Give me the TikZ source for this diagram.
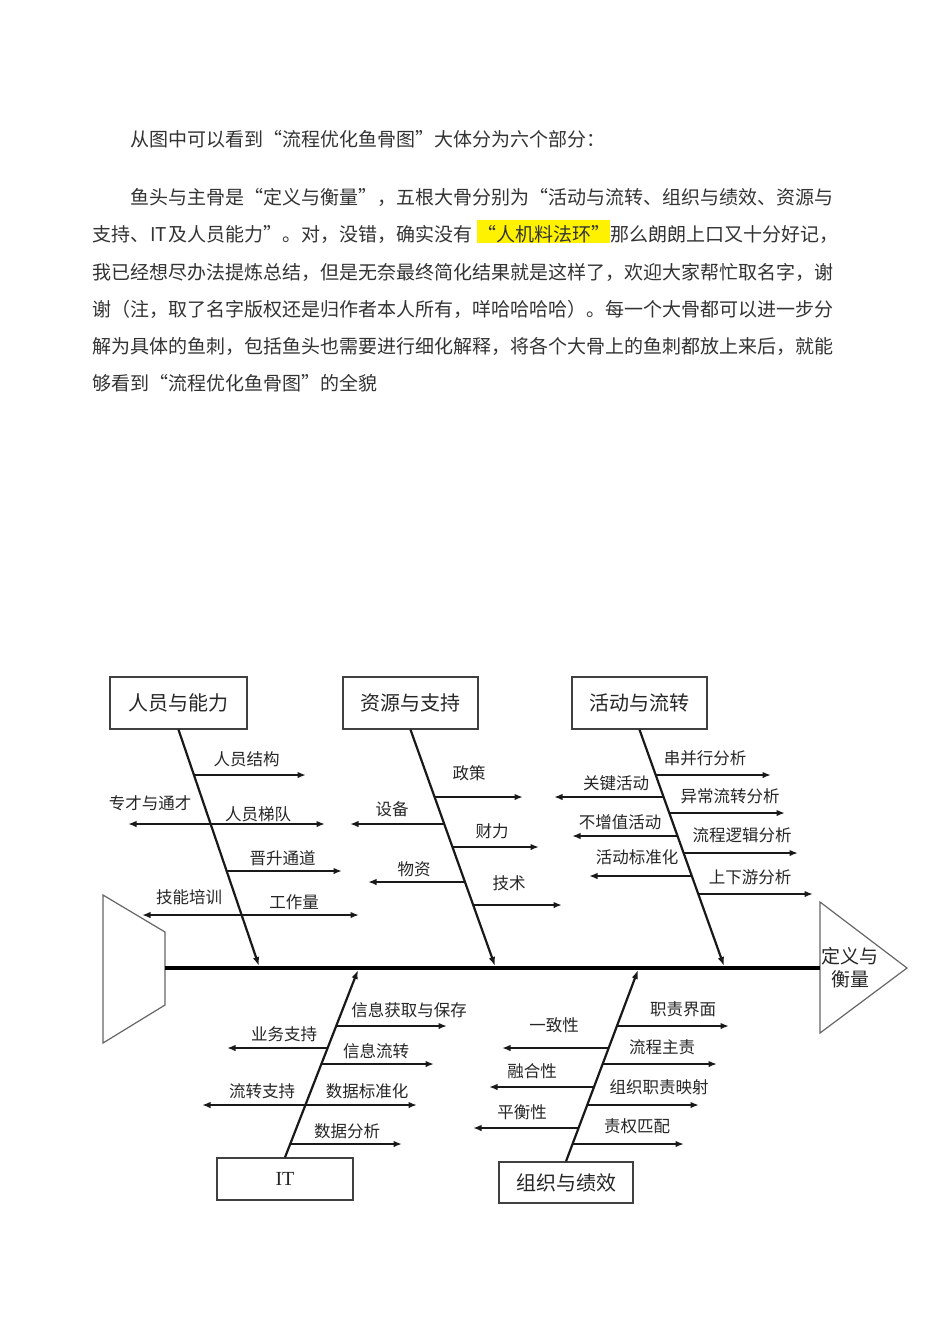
\documentclass[tikz,border=0pt]{standalone}
\usepackage{fontspec}
\setmainfont{Noto Sans CJK SC}
\newfontfamily\tnrfont{Liberation Serif}
\usetikzlibrary{arrows.meta}
\newcommand\myql{\makebox[1em][r]{“}}
\newcommand\myqr{\makebox[1em][l]{”}}
\tikzset{
  titlebox/.style={draw=black!75, line width=1.3pt, inner sep=0pt, font=\fontsize{20}{24}\selectfont, text=black!85},
  bone/.style={line width=2.2pt, draw=black!90, -{Latex[length=9pt,width=6.5pt]}},
  rib/.style={line width=1.8pt, draw=black!90, -{Latex[length=8.5pt,width=6.5pt]}},
  lbl/.style={font=\fontsize{16.5}{20}\selectfont, text=black!85, inner sep=0pt},
  para/.style={font=\fontsize{19}{19}\selectfont, text=black!80, inner sep=0pt, anchor=base west},
  outline/.style={draw=black!60, line width=1.2pt, fill=white}
}
% #1 bone start, #2 bone end, #3 y, #4 name, #5 end x
\newcommand\myrib[5]{%
  \coordinate (#4s) at (intersection of #1--#2 and 0,#3--950,#3);
  \coordinate (#4e) at (#5,#3);
  \draw[rib] (#4s) -- (#4e);}
\begin{document}
\begin{tikzpicture}[x=1pt,y=-1pt]
\fill[white] (0,0) rectangle (950,1344);
\useasboundingbox (0,0) rectangle (950,1344);

% ---------- paragraph ----------
\node[para] (p0) at (130,146) {从图中可以看到\myql 流程优化鱼骨图\myqr 大体分为六个部分：};
\node[para] (p1) at (130,204) {鱼头与主骨是\myql 定义与衡量\myqr ，五根大骨分别为\myql 活动与流转、组织与绩效、资源与};
\node[para] (p2a) at (92,241) {支持、\makebox[1em]{IT}及人员能力\myqr 。对，没错，确实没有};
\node[para, fill=yellow, text height=21pt, text depth=2pt] (p2b) at (477,241) {\myql 人机料法环\myqr};
\node[para] (p2c) at (p2b.base east) {那么朗朗上口又十分好记，};
\node[para] (p3) at (92,279) {我已经想尽办法提炼总结，但是无奈最终简化结果就是这样了，欢迎大家帮忙取名字，谢};
\node[para] (p4) at (92,316) {谢（注，取了名字版权还是归作者本人所有，咩哈哈哈哈）。每一个大骨都可以进一步分};
\node[para] (p5) at (92,353) {解为具体的鱼刺，包括鱼头也需要进行细化解释，将各个大骨上的鱼刺都放上来后，就能};
\node[para] (p6) at (92,390) {够看到\myql 流程优化鱼骨图\myqr 的全貌};

% ---------- tail, spine, head ----------
\draw[outline] (103,895) -- (165,932) -- (165,1005) -- (103,1043) -- cycle;
\draw[outline] (820,902) -- (907,968) -- (820,1033) -- cycle;
\coordinate (tailR) at (165,968);
\coordinate (headL) at (820,968);
\draw[line width=4pt, black] (tailR) -- (headL);
\node[align=center, inner sep=0pt, font=\fontsize{19}{22.6}\selectfont, text=black!85] (head) at (850,968) {定义与\\衡量};

% ---------- category boxes ----------
\node[titlebox, minimum width=137pt, minimum height=52pt] (A) at (178.5,703) {人员与能力};
\node[titlebox, minimum width=135pt, minimum height=52pt] (B) at (410.5,703) {资源与支持};
\node[titlebox, minimum width=135pt, minimum height=52pt] (C) at (639.5,703) {活动与流转};
\node[titlebox, minimum width=136pt, minimum height=42pt, font=\tnrfont\fontsize{20}{24}\selectfont] (D) at (285,1179) {IT};
\node[titlebox, minimum width=134pt, minimum height=41pt] (E) at (566,1182.5) {组织与绩效};

\coordinate (Aend) at (259,966);
\coordinate (Bend) at (495,966);
\coordinate (Cend) at (724,966);
\coordinate (Dend) at (358,970);
\coordinate (Eend) at (638,970);
\draw[bone] (A.south) -- (Aend);
\draw[bone] (B.south) -- (Bend);
\draw[bone] (C.south) -- (Cend);
\draw[bone] (D.north) -- (Dend);
\draw[bone] (E.north) -- (Eend);

% ---------- ribs of A ----------
\myrib{A.south}{Aend}{775}{a1}{306}
\myrib{A.south}{Aend}{824}{a2l}{128}
\myrib{A.south}{Aend}{824}{a2r}{325}
\myrib{A.south}{Aend}{871}{a3}{342}
\myrib{A.south}{Aend}{915}{a4l}{142}
\myrib{A.south}{Aend}{915}{a4r}{359}
\node[lbl] (la1) at (246.7,759) {人员结构};
\node[lbl] (la2l) at (150,803) {专才与通才};
\node[lbl] (la2r) at (258,814) {人员梯队};
\node[lbl] (la3) at (282.7,858) {晋升通道};
\node[lbl] (la4l) at (189,897) {技能培训};
\node[lbl] (la4r) at (294,902) {工作量};

% ---------- ribs of B ----------
\myrib{B.south}{Bend}{797}{b1}{523}
\myrib{B.south}{Bend}{824}{b2}{350}
\myrib{B.south}{Bend}{847}{b3}{539}
\myrib{B.south}{Bend}{882}{b4}{368}
\myrib{B.south}{Bend}{905}{b5}{562}
\node[lbl] (lb1) at (469,773) {政策};
\node[lbl] (lb2) at (392,809) {设备};
\node[lbl] (lb3) at (492,831) {财力};
\node[lbl] (lb4) at (414,869) {物资};
\node[lbl] (lb5) at (509,883) {技术};

% ---------- ribs of C ----------
\myrib{C.south}{Cend}{775}{c1}{771}
\myrib{C.south}{Cend}{797}{c2}{554}
\myrib{C.south}{Cend}{813}{c3}{785}
\myrib{C.south}{Cend}{836}{c4}{572}
\myrib{C.south}{Cend}{853}{c5}{798}
\myrib{C.south}{Cend}{876}{c6}{589}
\myrib{C.south}{Cend}{894}{c7}{813}
\node[lbl] (lc1) at (705,758) {串并行分析};
\node[lbl] (lc2) at (616,783) {关键活动};
\node[lbl] (lc3) at (730,796) {异常流转分析};
\node[lbl] (lc4) at (620,822) {不增值活动};
\node[lbl] (lc5) at (742,835) {流程逻辑分析};
\node[lbl] (lc6) at (637,857) {活动标准化};
\node[lbl] (lc7) at (750,877) {上下游分析};

% ---------- ribs of D (IT) ----------
\myrib{D.north}{Dend}{1026}{d1}{447}
\myrib{D.north}{Dend}{1048}{d2}{227}
\myrib{D.north}{Dend}{1064}{d3}{434}
\myrib{D.north}{Dend}{1105}{d4l}{202}
\myrib{D.north}{Dend}{1105}{d4r}{417}
\myrib{D.north}{Dend}{1144}{d5}{402}
\node[lbl] (ld1) at (409,1010) {信息获取与保存};
\node[lbl] (ld2) at (284,1034) {业务支持};
\node[lbl] (ld3) at (376,1051) {信息流转};
\node[lbl] (ld4l) at (262,1091) {流转支持};
\node[lbl] (ld4r) at (367,1091) {数据标准化};
\node[lbl] (ld5) at (347,1131) {数据分析};

% ---------- ribs of E ----------
\myrib{E.north}{Eend}{1026}{e1}{729}
\myrib{E.north}{Eend}{1048}{e2}{502}
\myrib{E.north}{Eend}{1064}{e3}{717}
\myrib{E.north}{Eend}{1087}{e4}{489}
\myrib{E.north}{Eend}{1105}{e5}{699}
\myrib{E.north}{Eend}{1128}{e6}{473}
\myrib{E.north}{Eend}{1144}{e7}{684}
\node[lbl] (le1) at (683,1009) {职责界面};
\node[lbl] (le2) at (554,1025) {一致性};
\node[lbl] (le3) at (662,1047) {流程主责};
\node[lbl] (le4) at (532,1071) {融合性};
\node[lbl] (le5) at (659,1087) {组织职责映射};
\node[lbl] (le6) at (522,1112) {平衡性};
\node[lbl] (le7) at (637,1126) {责权匹配};
\end{tikzpicture}
\end{document}
